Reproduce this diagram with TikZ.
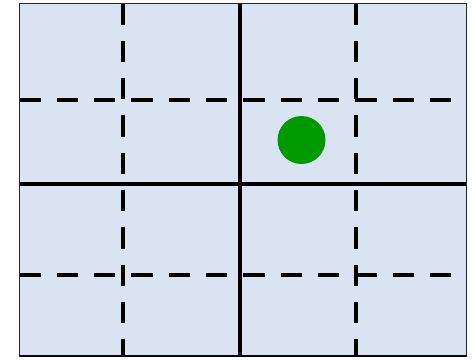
\documentclass[tikz,border=0pt]{standalone}
\usetikzlibrary{calc}
\definecolor{cellfill}{HTML}{DAE3F1}
\definecolor{dotgreen}{HTML}{009900}
\tikzset{
  gridsolid/.style={line width=4pt, black},
  griddash/.style={line width=4pt, black, dash pattern=on 21.3pt off 16pt},
}
\begin{document}
\begin{tikzpicture}[x=1pt,y=-1pt]
\useasboundingbox (0,0) rectangle (476,359);
\fill[cellfill] (19.5,3.5) rectangle (466.5,356.5);
% dashed lines
\draw[griddash] (123,3.5) -- (123,356.5);
\draw[griddash] (355.5,3.5) -- (355.5,356.5);
\draw[griddash] (19.5,99.5) -- (466.5,99.5);
\draw[griddash] (19.5,274.5) -- (466.5,274.5);
% solid lines
\draw[gridsolid] (239.5,3.5) -- (239.5,356.5);
\draw[gridsolid] (19.5,183.5) -- (466.5,183.5);
% dot
\fill[dotgreen] (301.5,140) circle (24);
% frame
\draw[line width=1.6pt, black!85] (19.5,3.5) rectangle (466.5,356.5);
\draw[line width=2pt, black!90!blue] (19.5,356.3) -- (466.5,356.3);
\end{tikzpicture}
\end{document}
